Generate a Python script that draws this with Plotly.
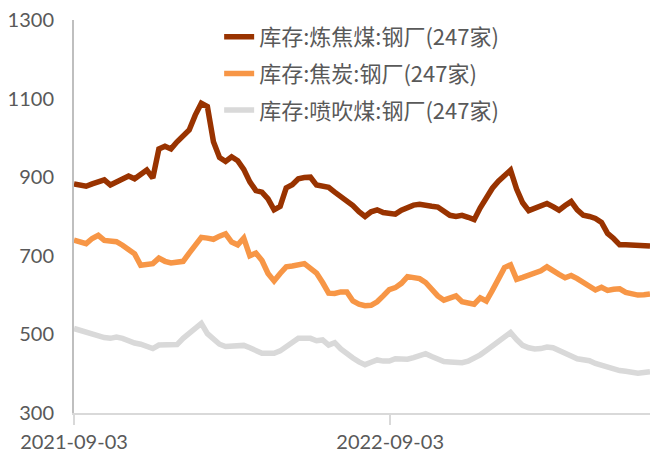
import pandas as pd
import plotly.graph_objects as go

start_date = "2021-09-03"
n_weeks = 96
dates = pd.date_range(start_date, periods=n_weeks, freq="7D")

coking_coal = [883, 880, 877, 883, 888, 893, 880, 888, 896, 903,
               896, 906, 918, 898, 972, 979, 972, 990, 1005, 1020,
               1058, 1088, 1080, 990, 950, 940, 952, 942, 920, 888,
               866, 862, 845, 817, 826, 873, 881, 896, 899, 900,
               880, 876, 874, 862, 852, 842, 828, 812, 800, 812,
               817, 810, 807, 806, 816, 824, 829, 831, 827, 826,
               824, 815, 803, 800, 803, 798, 792, 822, 848, 872,
               890, 905, 918, 870, 835, 815, 822, 829, 833, 825,
               816, 828, 838, 817, 803, 800, 795, 785, 757, 744,
               728, 728, 727, 725, 723, 725]

coke = [740, 736, 731, 744, 752, 739, 737, 736, 727, 717,
        705, 676, 678, 680, 694, 686, 682, 684, 686, 707,
        727, 747, 745, 742, 750, 756, 735, 728, 745, 700,
        707, 688, 655, 636, 655, 672, 674, 676, 680, 668,
        656, 632, 605, 604, 608, 608, 585, 577, 573, 574,
        583, 598, 614, 619, 630, 647, 646, 642, 632, 615,
        598, 587, 591, 598, 583, 580, 577, 593, 585, 612,
        642, 670, 677, 640, 645, 651, 654, 662, 672, 664,
        653, 644, 650, 642, 632, 622, 613, 620, 612, 615,
        616, 607, 602, 600, 601, 603]

pci_coal = [515, 510, 507, 500, 495, 492, 490, 493, 490, 483,
            478, 475, 470, 464, 473, 473, 476, 474, 490, 503,
            516, 528, 502, 488, 475, 469, 469, 470, 472, 466,
            458, 452, 452, 452, 458, 468, 478, 490, 490, 490,
            484, 486, 473, 479, 463, 450, 440, 430, 423, 429,
            435, 432, 432, 438, 437, 437, 441, 447, 451, 444,
            437, 431, 430, 430, 428, 432, 439, 448, 459, 470,
            480, 494, 505, 487, 472, 466, 463, 464, 468, 466,
            460, 452, 445, 438, 436, 433, 426, 421, 418, 413,
            408, 406, 403, 401, 403, 405]

series_names = ["库存:炼焦煤:钢厂(247家)", "库存:焦炭:钢厂(247家)", "库存:喷吹煤:钢厂(247家)"]
series_colors = ["#993300", "#F79646", "#D9D9D9"]
x_tick_labels = ["2021-09-03", "2022-09-03"]
y_ticks = [300, 500, 700, 900, 1100, 1300]

fig = go.Figure()
series_vals = [coking_coal, coke, pci_coal]
# draw gray at back, dark on top; legend order fixed by legendrank
for i in [2, 1, 0]:
    fig.add_trace(go.Scatter(
        x=dates, y=series_vals[i], mode="lines", name=series_names[i],
        legendgroup=f"g{i}", legendrank=i + 1,
        line=dict(color=series_colors[i], width=5.5),
        hoverinfo="skip",
    ))

fig.update_layout(
    width=654, height=453,
    margin=dict(l=74, r=4, t=20, b=40),
    plot_bgcolor="white", paper_bgcolor="white",
    font=dict(family="Lato, Noto Sans CJK SC, sans-serif", size=20, color="#595959"),
    showlegend=True,
    legend=dict(
        x=0.252, y=1.01, xanchor="left", yanchor="top",
        bgcolor="rgba(0,0,0,0)", traceorder="grouped",
        font=dict(family="Noto Sans CJK SC, sans-serif", size=22, color="#595959"),
        tracegroupgap=5,
    ),
)
fig.update_xaxes(
    type="date", automargin=False,
    range=[dates[0], dates[-1]],
    tickvals=[pd.Timestamp(t) for t in x_tick_labels],
    ticktext=x_tick_labels,
    showgrid=False, zeroline=False,
    showline=True, linecolor="#D9D9D9", linewidth=2,
    ticks="outside", ticklen=10, tickcolor="#D9D9D9", tickwidth=2,
)
fig.update_yaxes(
    automargin=False,
    range=[300, 1300],
    tickvals=y_ticks,
    showgrid=False, zeroline=False,
    showline=True, linecolor="#BFBFBF", linewidth=2,
    ticks="", ticklabelstandoff=14,
)

fig.write_html(
    "out.html",
    config={"displayModeBar": False},
    post_script="document.body.style.margin='0';document.body.style.overflow='hidden';",
)
